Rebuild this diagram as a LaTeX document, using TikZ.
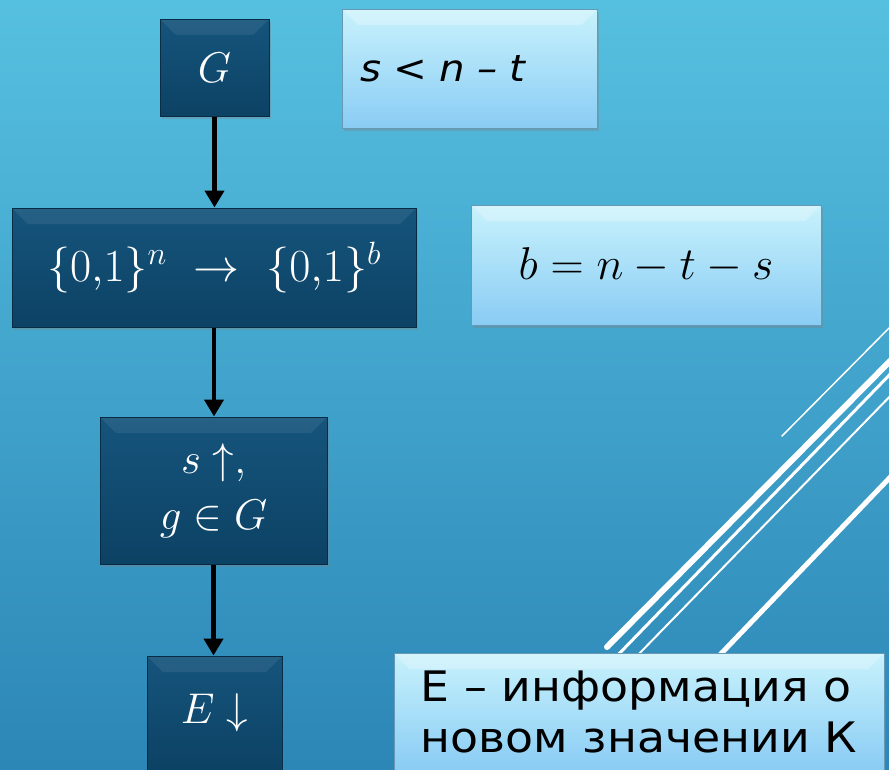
\RequirePackage{fix-cm}
\documentclass[tikz,border=0pt]{standalone}
\usepackage{fontspec}
\newfontfamily\gothic[FakeStretch=1.09]{DejaVu Sans}
\usetikzlibrary{arrows.meta,shadows}
\definecolor{bgtop}{RGB}{86,192,224}
\definecolor{bgbot}{RGB}{44,134,182}
\definecolor{cdarktop}{RGB}{22,84,124}
\definecolor{cdark}{RGB}{12,66,100}
\definecolor{cdarkedge}{RGB}{8,44,68}
\definecolor{clighttop}{RGB}{200,242,252}
\definecolor{clightbot}{RGB}{138,204,244}
\tikzset{
  bevel/.style={path picture={
    \fill[white,opacity=#1] (path picture bounding box.north west) -- (path picture bounding box.north east)
      -- ([xshift=-16pt,yshift=-16pt]path picture bounding box.north east)
      -- ([xshift=16pt,yshift=-16pt]path picture bounding box.north west) -- cycle;}},
  darkbox/.style={draw=cdarkedge, line width=1pt, top color=cdarktop, bottom color=cdark,
    text=white, inner sep=0pt, bevel=.07,
    drop shadow={shadow xshift=2pt, shadow yshift=-3pt, opacity=.35}},
  lightbox/.style={draw=clightbot!75!black, line width=.6pt, top color=clighttop, bottom color=clightbot,
    text=black, inner sep=0pt, bevel=.25,
    drop shadow={shadow xshift=2pt, shadow yshift=-3pt, opacity=.35}},
  mathtxt/.style={font=\fontsize{43}{56}\selectfont},
  flow/.style={line width=4.5pt, -{Triangle[length=17pt,width=19pt]}},
  stripe/.style={white, line cap=round}
}
\begin{document}
\begin{tikzpicture}[x=1pt,y=-1pt]
\useasboundingbox (0,0) rectangle (889,769);
\shade[top color=bgtop, bottom color=bgbot] (0,0) rectangle (889,769);
\begin{scope}
\clip (0,0) rectangle (889,769);
\draw[stripe, line width=1.5pt] (782,436) -- (900,317);
\draw[stripe, line width=6pt] (607,647) -- (900,351);
\draw[stripe, line width=3pt] (613,660) -- (900,364);
\draw[stripe, line width=2pt] (633,660) -- (900,386);
\draw[stripe, line width=5pt] (715,660) -- (900,467);
\end{scope}
\node[darkbox, mathtxt, minimum width=109, minimum height=97] (G) at (214.5,67.5) {$G$};
\node[lightbox, minimum width=255, minimum height=119, text width=219, align=left,
  font=\gothic\itshape\fontsize{37}{48}\selectfont] (cond) at (469.5,68.5) {s < n – t};
\node[darkbox, minimum width=404, minimum height=119, font=\fontsize{46}{56}\selectfont] (map) at (214,267.5)
  {$\{0,\!1\}^n\ \rightarrow\ \{0,\!1\}^b$};
\node[lightbox, minimum width=350, minimum height=120, font=\fontsize{46}{56}\selectfont] (bval) at (646,265)
  {$b=n-t-s$};
\node[darkbox, mathtxt, minimum width=227, minimum height=147, align=center] (grow) at (213.5,490.5)
  {$s\uparrow,$\\$g\in G$};
\node[darkbox, mathtxt, minimum width=135, minimum height=114] (E) at (214.5,713) {$E\downarrow$};
\node[lightbox, minimum width=490, minimum height=117, align=left,
  font=\gothic\fontsize{42}{51}\selectfont] (info) at (639,711.5) {E – информация о\\новом значении К};
\draw[flow] (G) -- (G |- map.north);
\draw[flow] (map) -- (map |- grow.north);
\draw[flow] (grow) -- (grow |- E.north);
\end{tikzpicture}
\end{document}
